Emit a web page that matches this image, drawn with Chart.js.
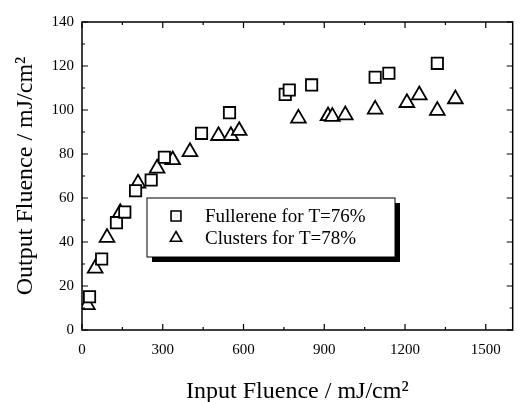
<!DOCTYPE html>
<html>
<head>
<meta charset="utf-8">
<script src="https://cdn.jsdelivr.net/npm/chart.js@4/dist/chart.umd.min.js"></script>
<style>
  html, body { margin: 0; padding: 0; background: #fff; }
  #wrap { width: 523px; height: 402px; }
</style>
</head>
<body>
<div id="wrap"><canvas id="fluence"></canvas></div>
<script>
// Fullerene, T=76%
const fullereneIn = [ 28, 73, 128, 159, 199, 257, 306, 444, 548, 755, 770, 853, 1089, 1140, 1320 ]
const fullereneOut = [ 15.1, 32.3, 48.8, 53.6, 63.3, 68.2, 78.5, 89.4, 98.8, 107.1, 109.1, 111.4, 114.9, 116.7, 121.2 ]

// Clusters, T=78%
const clustersIn = [ 20, 49, 93, 142, 208, 279, 337, 401, 507, 553, 584, 804, 914, 930, 978, 1089, 1207, 1253, 1320, 1387 ]
const clustersOut = [ 11.4, 28.0, 42.0, 53.3, 66.7, 73.5, 77.3, 81.0, 88.3, 88.3, 90.6, 96.2, 97.3, 97.0, 97.7, 100.3, 103.3, 106.8, 99.7, 105.0 ]

const xTickValues = [ 0, 300, 600, 900, 1200, 1500 ]
const yTickValues = [ 0, 20, 40, 60, 80, 100, 120, 140 ]
const xMinorStep = 150
const yMinorStep = 10

const serif = "'Liberation Serif', 'DejaVu Serif', serif"

const toPoints = (xs, ys) => xs.map((x, i) => ({ x: x, y: ys[i] }))

// inward ticks on all four sides plus the frame
const frameTicks = {
  id: 'frameTicks',
  afterDatasetsDraw(chart) {
    const { ctx, chartArea: { left, right, top, bottom }, scales: { x, y } } = chart
    ctx.save()
    ctx.strokeStyle = '#000'
    ctx.lineWidth = 1.5
    ctx.strokeRect(left, top, right - left, bottom - top)
    ctx.lineWidth = 1.2
    ctx.beginPath()
    for (let v = x.min; v <= x.max; v += xMinorStep) {
      const px = x.getPixelForValue(v)
      const len = v % 300 === 0 ? 6 : 3
      ctx.moveTo(px, bottom); ctx.lineTo(px, bottom - len)
      ctx.moveTo(px, top); ctx.lineTo(px, top + len)
    }
    for (let v = y.min; v <= y.max; v += yMinorStep) {
      const py = y.getPixelForValue(v)
      const len = v % 20 === 0 ? 6 : 3
      ctx.moveTo(left, py); ctx.lineTo(left + len, py)
      ctx.moveTo(right, py); ctx.lineTo(right - len, py)
    }
    ctx.stroke()
    ctx.restore()
  }
}

// boxed legend with a heavy drop shadow
const boxLegend = {
  id: 'boxLegend',
  afterDatasetsDraw(chart) {
    const { ctx } = chart
    const bx = 147, by = 198, bw = 248, bh = 59
    ctx.save()
    ctx.fillStyle = '#000'
    ctx.fillRect(bx + 5, by + 5, bw, bh)
    ctx.fillStyle = '#fff'
    ctx.fillRect(bx, by, bw, bh)
    ctx.strokeStyle = '#000'
    ctx.lineWidth = 1
    ctx.strokeRect(bx, by, bw, bh)
    chart.data.datasets.forEach((ds, i) => {
      const cy = by + 18 + i * 22
      ctx.fillStyle = '#fff'
      ctx.strokeStyle = '#000'
      ctx.lineWidth = 1.6
      Chart.helpers.drawPoint(ctx, {
        pointStyle: ds.pointStyle,
        radius: ds.pointStyle === 'rect' ? 7 : 6.5,
        borderWidth: 1.6
      }, 176, cy)
      ctx.fillStyle = '#000'
      ctx.font = '19px ' + serif
      ctx.textBaseline = 'middle'
      ctx.textAlign = 'left'
      ctx.fillText(ds.label, 205, cy + 1)
    })
    ctx.restore()
  }
}

Chart.defaults.font.family = serif
Chart.defaults.color = '#000'

let fluenceChart = new Chart(document.querySelector('#fluence'), {
  type: 'scatter',
  plugins: [frameTicks, boxLegend],
  data: {
    datasets: [
      {
        label: 'Fullerene for T=76%',
        data: toPoints(fullereneIn, fullereneOut),
        pointStyle: 'rect',
        pointRadius: 8,
        borderWidth: 1.8,
        borderColor: '#000',
        backgroundColor: '#fff'
      },
      {
        label: 'Clusters for T=78%',
        data: toPoints(clustersIn, clustersOut),
        pointStyle: 'triangle',
        pointRadius: 8.5,
        borderWidth: 1.8,
        borderColor: '#000',
        backgroundColor: '#fff'
      }
    ]
  },
  options: {
    responsive: true,
    maintainAspectRatio: false,
    animation: false,
    layout: { padding: { top: 22, right: 4, left: 0, bottom: 0 } },
    scales: {
      x: {
        type: 'linear',
        min: 0,
        max: 1600,
        grid: { display: false, drawTicks: false },
        border: { display: false },
        afterBuildTicks: (scale) => { scale.ticks = xTickValues.map(v => ({ value: v })) },
        afterFit: (scale) => { scale.height = 72 },
        ticks: { padding: 11, font: { size: 15 }, maxRotation: 0, callback: (v) => String(v) },
        title: {
          display: true,
          text: 'Input Fluence / mJ/cm\u00B2',
          font: { size: 24 },
          padding: { top: 0, bottom: -4 }
        }
      },
      y: {
        type: 'linear',
        min: 0,
        max: 140,
        grid: { display: false, drawTicks: false },
        border: { display: false },
        afterBuildTicks: (scale) => { scale.ticks = yTickValues.map(v => ({ value: v })) },
        afterFit: (scale) => { scale.width = 82 },
        ticks: { padding: 8, font: { size: 15 }, callback: (v) => String(v) },
        title: {
          display: true,
          text: 'Output Fluence / mJ/cm\u00B2',
          font: { size: 24 },
          padding: { top: 11, bottom: 0 }
        }
      }
    },
    plugins: {
      legend: { display: false },
      tooltip: { enabled: false }
    }
  }
})
</script>
</body>
</html>
